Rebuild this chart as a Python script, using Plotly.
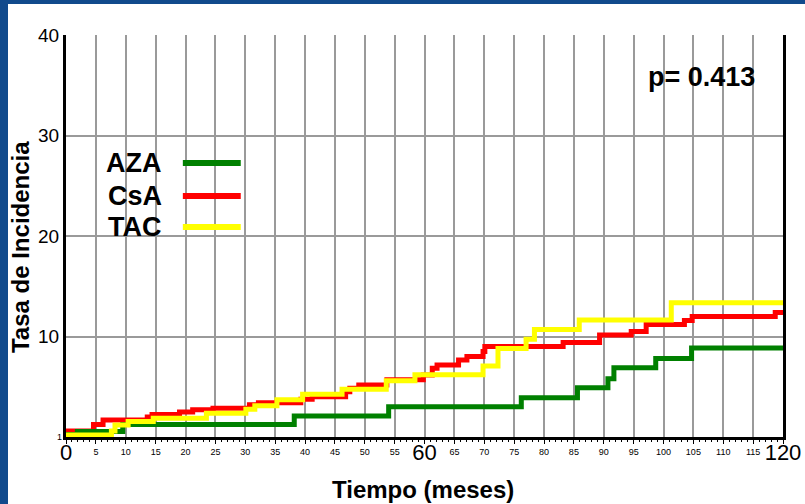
import plotly.graph_objects as go

# ---- data ----
aza_months = [0, 1.9, 9.5, 38.2, 54.0, 76.2, 85.6, 90.7, 91.7, 98.7, 104.7, 120]
aza_rate = [0.25, 0.55, 1.25, 2.1, 3.0, 3.9, 4.9, 5.8, 6.9, 7.8, 8.85, 8.85]

csa_months = [0, 4.6, 6.2, 13.6, 14.4, 19.0, 21.2, 24.6, 30.7, 32.2, 39.3, 41.2, 46.8,
              47.5, 49.0, 53.7, 59.8, 61.3, 62.1, 65.7, 67.1, 69.8, 70.1, 83.2, 89.3,
              94.6, 97.1, 103.5, 104.8, 118.7, 120]
csa_rate = [0.6, 1.25, 1.7, 2.0, 2.25, 2.5, 2.7, 2.85, 3.2, 3.4, 3.75, 4.0, 4.5,
            4.85, 5.17, 5.7, 6.17, 6.83, 7.16, 7.66, 8.0, 8.5, 9.0, 9.4, 10.15,
            10.5, 11.2, 11.6, 12.0, 12.4, 12.4]

tac_months = [0, 7.6, 8.2, 10.4, 14.6, 23.5, 30.1, 31.6, 35.3, 39.6, 46.2, 53.6, 58.4,
              69.8, 72.3, 77.0, 78.4, 85.9, 101.3, 120]
tac_rate = [0.2, 0.6, 1.2, 1.55, 1.86, 2.36, 2.75, 3.1, 3.7, 4.25, 4.75, 5.6, 6.2,
            7.06, 8.8, 9.72, 10.7, 11.64, 13.36, 13.36]

series_names = ["AZA", "CsA", "TAC"]
series_colors = ["#008000", "#ff0000", "#ffff00"]

x_small_ticks = [0, 5, 10, 15, 20, 25, 30, 35, 40, 45, 50, 55, 60, 65, 70, 75, 80, 85,
                 90, 95, 100, 105, 110, 115, 120]
x_small_labels = ["", "5", "10", "15", "20", "25", "30", "35", "40", "45", "50", "55", "",
                  "65", "70", "75", "80", "85", "90", "95", "100", "105", "110", "115", ""]
x_big_ticks = [0, 60, 120]
x_big_labels = ["0", "60", "120"]
y_ticks = [0, 10, 20, 30, 40]
y_labels = ["", "10", "20", "30", "40"]
y_small_ticks = [0]
y_small_labels = ["1"]

p_text = "p= 0.413"
x_title = "Tiempo (meses)"
y_title = "Tasa de Incidencia"

FONT = "Liberation Sans, Arial, sans-serif"

fig = go.Figure()
# draw order: CsA, AZA, TAC (TAC on top)
order = [1, 0, 2]
all_months = [aza_months, csa_months, tac_months]
all_rates = [aza_rate, csa_rate, tac_rate]
for i in order:
    fig.add_trace(go.Scatter(x=all_months[i], y=all_rates[i], mode="lines",
                             name=series_names[i],
                             line=dict(color=series_colors[i], width=5, shape="hv"),
                             showlegend=False, hoverinfo="skip"))

# invisible trace to activate overlay axes
fig.add_trace(go.Scatter(x=[None], y=[None], xaxis="x2", yaxis="y2",
                         showlegend=False, hoverinfo="skip"))

# page offset of the figure (blue page border shows around it)
OFF_X, OFF_Y = 8, 4
W, H = 805, 500
ml, mr, mt, mb = 58, 21, 31, 67
PW = 718          # plot-area width in pixels (x 66..784 on the page)
ph = H - mt - mb


def px(xp):
    # page pixel x -> paper coordinate
    return (xp - OFF_X - ml) / PW


def py(yp):
    # page pixel y -> paper coordinate
    return (OFF_Y + H - mb - yp) / ph


grid = "#9a9a9a"
fig.update_layout(
    width=W, height=H, autosize=False,
    margin=dict(l=ml, r=mr, t=mt, b=mb),
    paper_bgcolor="white",
    plot_bgcolor="white",
    font=dict(family=FONT, color="black"),
    xaxis=dict(range=[0, 120], tickmode="array", tickvals=x_small_ticks,
               ticktext=x_small_labels, tickfont=dict(size=9),
               showgrid=True, gridcolor=grid, gridwidth=2,
               ticks="outside", ticklen=4, tickcolor="black", tickwidth=1,
               minor=dict(dtick=1, ticks="outside", ticklen=2, tickcolor="black",
                          showgrid=False),
               showline=True, linecolor="black", linewidth=3, zeroline=False),
    xaxis2=dict(range=[0, 120], overlaying="x", anchor="y", side="bottom",
                tickmode="array", tickvals=x_big_ticks, ticktext=x_big_labels,
                tickfont=dict(size=22), showgrid=False, showline=False,
                ticks="", zeroline=False),
    yaxis=dict(range=[0, 40], tickmode="array", tickvals=y_ticks, ticktext=y_labels,
               tickfont=dict(size=19), showgrid=True, gridcolor=grid, gridwidth=2,
               showline=True, linecolor="black", linewidth=3, mirror=True,
               ticks="", zeroline=False),
    yaxis2=dict(range=[0, 40], overlaying="y", anchor="x", side="left",
                tickmode="array", tickvals=y_small_ticks, ticktext=y_small_labels,
                tickfont=dict(size=9), showgrid=False, showline=False, ticks="",
                ticklabelstandoff=3, zeroline=False),
)

legend_y = [163, 196, 227]
shapes = []
for ly, col in zip(legend_y, series_colors):
    shapes.append(dict(type="line", xref="paper", yref="paper", x0=px(183), x1=px(241),
                       y0=py(ly), y1=py(ly), line=dict(color=col, width=6)))
fig.update_layout(shapes=shapes)

annotations = []
for ly, name in zip(legend_y, series_names):
    annotations.append(dict(text="<b>%s</b>" % name, xref="paper", yref="paper",
                            x=px(164), y=py(ly), xanchor="right", yanchor="middle",
                            showarrow=False, font=dict(size=27, color="black")))
annotations.append(dict(text="<b>%s</b>" % p_text, xref="paper", yref="paper",
                        x=px(702), y=py(77), xanchor="center", yanchor="middle",
                        showarrow=False, font=dict(size=27, color="black")))
annotations.append(dict(text="<b>%s</b>" % x_title, xref="paper", yref="paper",
                        x=px(423), y=py(489), xanchor="center", yanchor="middle",
                        showarrow=False, font=dict(size=24, color="black")))
annotations.append(dict(text="<b>%s</b>" % y_title, xref="paper", yref="paper",
                        x=px(20), y=py(247), xanchor="center", yanchor="middle",
                        textangle=-90, showarrow=False,
                        font=dict(size=24, color="black")))
fig.update_layout(annotations=annotations)

fig.write_html(
    "out.html",
    config={"responsive": False, "displayModeBar": False},
    post_script=("var de=document.documentElement;de.style.margin='0';"
                 "de.style.padding='0';de.style.overflow='hidden';"
                 "de.style.background='#114a8c';"
                 "document.body.style.margin='4px 0 0 8px';"
                 "document.body.style.padding='0';"
                 "document.body.style.overflow='hidden';"
                 "document.body.style.background='transparent';"),
)
